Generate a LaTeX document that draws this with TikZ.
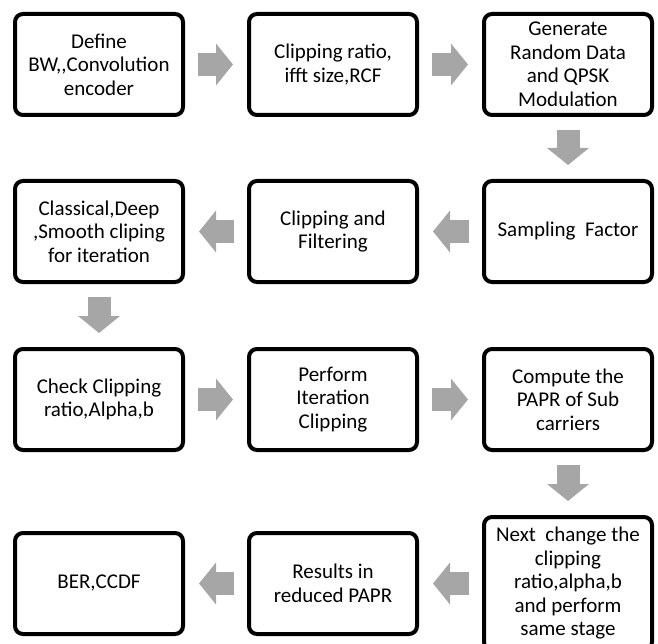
\documentclass[tikz,border=0pt]{standalone}
\usepackage{fontspec}
\setmainfont{Carlito}
\usetikzlibrary{arrows.meta}
\definecolor{arrowgray}{HTML}{A6A6A6}
\tikzset{
  stepbox/.style={draw=black, line width=4pt, rounded corners=8pt, fill=white,
    minimum width=168pt, minimum height=101pt, align=center, inner sep=2pt,
    font=\fontsize{21}{23.5}\selectfont},
  flowarrow/.style={draw=arrowgray, line width=23pt,
    -{Triangle[length=17pt, width=41pt]}, shorten <=13pt, shorten >=14pt},
}
\begin{document}
\begin{tikzpicture}[x=1pt,y=1pt]
\useasboundingbox (0,0) rectangle (658,-644);
% row 1
\node[stepbox] (b1) at (99,-64.5) {Define\\BW,{},Convolution\\encoder};
\node[stepbox] (b2) at (333,-64.5) {Clipping ratio,\\ifft size,RCF};
\node[stepbox] (b3) at (568,-64.5) {Generate\\Random Data\\and QPSK\\Modulation};
% row 2
\node[stepbox] (b4) at (568,-231.5) {Sampling\ \ Factor};
\node[stepbox] (b5) at (333,-231.5) {Clipping and\\Filtering};
\node[stepbox] (b6) at (99,-231.5) {Classical,Deep\\,Smooth cliping\\for iteration};
% row 3
\node[stepbox] (b7) at (99,-399.5) {Check Clipping\\ratio,Alpha,b};
\node[stepbox] (b8) at (333,-399.5) {Perform\\Iteration\\Clipping};
\node[stepbox] (b9) at (568,-399.5) {Compute the\\PAPR of Sub\\carriers};
% row 4
\node[stepbox, minimum height=133pt] (b10) at (568,-583.5) {Next\ \ change the\\clipping\\ratio,alpha,b\\and perform\\same stage};
\node[stepbox] (b11) at (333,-583.5) {Results in\\reduced PAPR};
\node[stepbox] (b12) at (99,-583.5) {BER,CCDF};
% arrows
\draw[flowarrow] (b1) -- (b2);
\draw[flowarrow] (b2) -- (b3);
\draw[flowarrow] (b3) -- (b4);
\draw[flowarrow] (b4) -- (b5);
\draw[flowarrow] (b5) -- (b6);
\draw[flowarrow] (b6) -- (b7);
\draw[flowarrow] (b7) -- (b8);
\draw[flowarrow] (b8) -- (b9);
\draw[flowarrow] (b9) -- (b10);
\draw[flowarrow] (b10.west |- b11) -- (b11);
\draw[flowarrow] (b11) -- (b12);
\end{tikzpicture}
\end{document}
